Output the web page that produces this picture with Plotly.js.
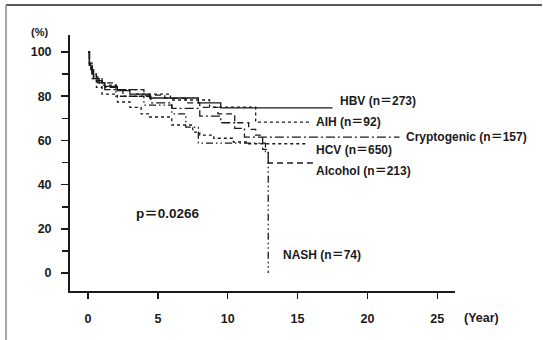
<!DOCTYPE html>
<html><head><meta charset="utf-8">
<script src="https://cdn.plot.ly/plotly-3.0.1.min.js"></script>
<style>html,body{margin:0;padding:0;background:#fff}#chart{width:543px;height:340px}</style>
</head><body><div id="chart"></div>
<script>
// Kaplan-Meier step data (years, survival %)
const hbvT = [0, 0.1, 0.2, 0.4, 0.8, 1.2, 2.1, 3, 4.4, 7.9, 9.5, 17.5];
const hbvS = [100, 95, 92, 88, 86, 84.5, 82.5, 81, 79.2, 77, 74.7, 74.7];

const aihT = [0, 0.1, 0.3, 0.6, 1, 2, 3.5, 5.9, 8.7, 12.0, 16.0];
const aihS = [100, 94, 90, 87, 85, 83, 81, 78.3, 75.1, 68.3, 68.3];

const cryT = [0, 0.1, 0.3, 0.7, 1.2, 2.5, 4.5, 6, 8, 9.5, 10.5, 11.2, 22.3];
const cryS = [100, 94, 89, 86, 83, 80, 77, 74.5, 71, 68, 65.5, 61.5, 61.5];

const hcvT = [0, 0.1, 0.3, 0.6, 1, 2.1, 3, 3.8, 4.4, 6, 7.5, 8, 9, 10.4, 11.5, 15.7];
const hcvS = [100, 93, 88, 84, 81, 77.4, 75, 72, 70.6, 67, 63.8, 62.4, 61, 59.3, 58.5, 58.5];

const alcT = [0, 0.1, 0.3, 0.6, 1, 2, 4, 5.5, 7, 8, 9.3, 10.5, 11.5, 12, 12.5, 12.9, 16.1];
const alcS = [100, 95, 91, 88, 86, 83, 80.5, 79, 77, 75, 72, 68, 65, 62.4, 56, 49.8, 49.8];

const nashT = [0, 0.1, 0.3, 0.6, 1, 2, 4, 6, 7, 7.9, 12.7, 12.9];
const nashS = [100, 94, 90, 87, 84, 80, 76, 72, 66, 58.8, 55, 0];

const xTicks = [0, 5, 10, 15, 20, 25];
const yTicks = [0, 20, 40, 60, 80, 100];

const labels = [
  {text: 'HBV (n＝273)', x: 17.9, y: 78, size: 12},
  {text: 'AIH (n＝92)', x: 16.2, y: 68.5, size: 12},
  {text: 'Cryptogenic (n＝157)', x: 22.6, y: 61.5, size: 12},
  {text: 'HCV (n＝650)', x: 16.2, y: 55.5, size: 12},
  {text: 'Alcohol (n＝213)', x: 16.2, y: 46, size: 12},
  {text: 'NASH (n＝74)', x: 13.8, y: 8, size: 12},
  {text: 'p＝0.0266', x: 3.3, y: 27, size: 13.5}
];

const FONT = 'Liberation Sans, Arial, Noto Sans CJK JP, sans-serif';
const col = '#1a1a1a';
function tr(t, s, dash) {
  return {x: t, y: s, type: 'scatter', mode: 'lines', line: {shape: 'hv', color: col, width: 1.3, dash: dash}, hoverinfo: 'skip'};
}
const data = [
  tr(hbvT, hbvS, 'solid'),
  tr(aihT, aihS, 'dot'),
  tr(cryT, cryS, '9px,3px,2px,3px'),
  tr(hcvT, hcvS, 'dot'),
  tr(alcT, alcS, '6px,4px'),
  tr(nashT, nashS, '7px,3px,1.5px,3px,1.5px,3px')
];

// plot area in pixels: x 70..455, y 35..291
const PL = 70, PW = 385, PT = 35, PH = 256;
const px = v => (v - PL) / PW;
const py = v => 1 - (v - PT) / PH;

const layout = {
  width: 543, height: 340,
  margin: {l: 70, r: 88, t: 35, b: 49},
  paper_bgcolor: '#fff', plot_bgcolor: '#fff',
  showlegend: false,
  font: {family: FONT, color: col},
  xaxis: {
    range: [-1.29, 26.27], tickvals: xTicks, ticktext: xTicks.map(String),
    showline: true, linewidth: 2, linecolor: col, showgrid: false, zeroline: false,
    ticks: 'outside', ticklen: 6, tickwidth: 1.5, tickcolor: col,
    ticklabelstandoff: 9,
    tickfont: {family: FONT, size: 12.5, color: col, weight: 'bold'}
  },
  yaxis: {
    range: [-8.1, 107.7], tickvals: yTicks, ticktext: yTicks.map(v => v + '&nbsp;&nbsp;'),
    showline: true, linewidth: 2, linecolor: col, showgrid: false, zeroline: false,
    ticks: 'outside', ticklen: 7, tickwidth: 1.5, tickcolor: col,
    minor: {tickvals: [10, 30, 50, 70, 90], ticks: 'outside', ticklen: 6, tickwidth: 1.5, tickcolor: col},
    tickfont: {family: FONT, size: 12.5, color: col, weight: 'bold'}
  },
  annotations: [
    ...labels.map(l => ({
      x: l.x, y: l.y, xref: 'x', yref: 'y', text: l.text, showarrow: false,
      xanchor: 'left', yanchor: 'middle', font: {family: FONT, size: l.size, color: col, weight: 'bold'}
    })),
    {x: px(39), y: py(32), xref: 'paper', yref: 'paper', text: '(%)', showarrow: false,
     xanchor: 'center', yanchor: 'middle', font: {family: FONT, size: 11, color: col, weight: 'bold'}},
    {x: px(482), y: py(318), xref: 'paper', yref: 'paper', text: '(Year)', showarrow: false,
     xanchor: 'center', yanchor: 'middle', font: {family: FONT, size: 12.5, color: col, weight: 'bold'}}
  ],
  shapes: [
    {type: 'line', xref: 'paper', yref: 'paper', x0: px(6), x1: px(542), y0: py(5), y1: py(5), line: {color: '#222', width: 1.5}},
    {type: 'line', xref: 'paper', yref: 'paper', x0: px(6), x1: px(6), y0: py(5), y1: py(340), line: {color: '#888', width: 1.5}}
  ]
};
Plotly.newPlot('chart', data, layout, {staticPlot: true, displayModeBar: false});
</script></body></html>
